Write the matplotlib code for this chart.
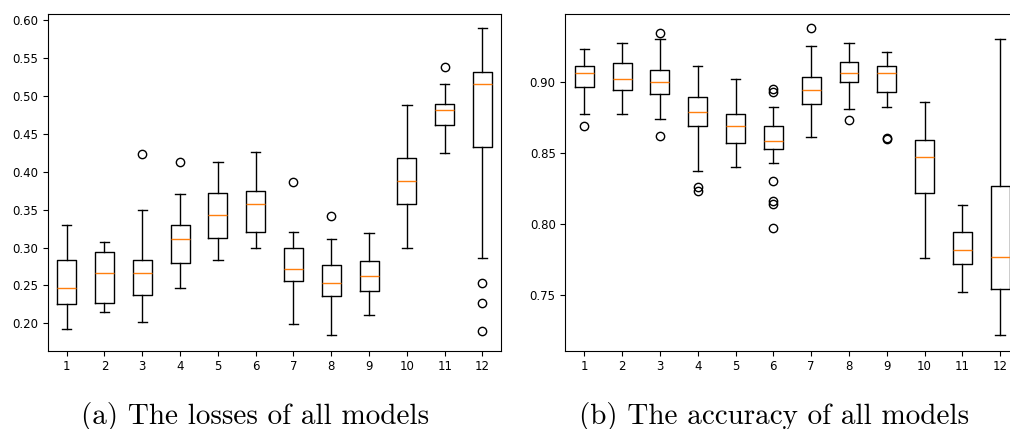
import matplotlib
matplotlib.use("Agg")
import matplotlib.pyplot as plt

models = [str(i) for i in range(1, 13)]

# Losses (left panel)
loss_whislo = [0.192, 0.215, 0.202, 0.246, 0.283, 0.300, 0.199, 0.184, 0.211, 0.300, 0.424, 0.286]
loss_q1     = [0.225, 0.227, 0.237, 0.279, 0.312, 0.320, 0.256, 0.236, 0.243, 0.357, 0.461, 0.433]
loss_med    = [0.246, 0.267, 0.267, 0.311, 0.343, 0.358, 0.271, 0.253, 0.262, 0.388, 0.481, 0.516]
loss_q3     = [0.283, 0.294, 0.284, 0.330, 0.372, 0.375, 0.299, 0.277, 0.282, 0.418, 0.489, 0.531]
loss_whishi = [0.330, 0.307, 0.349, 0.370, 0.413, 0.426, 0.320, 0.311, 0.319, 0.488, 0.516, 0.589]
loss_fliers = [[], [], [0.423], [0.413], [], [], [0.386], [0.341], [], [], [0.538],
               [0.253, 0.227, 0.190]]

# Accuracy (right panel)
acc_whislo = [0.877, 0.877, 0.874, 0.837, 0.840, 0.843, 0.861, 0.881, 0.882, 0.776, 0.752, 0.722]
acc_q1     = [0.896, 0.894, 0.891, 0.869, 0.857, 0.853, 0.884, 0.900, 0.893, 0.822, 0.772, 0.754]
acc_med    = [0.906, 0.902, 0.900, 0.879, 0.869, 0.858, 0.894, 0.906, 0.906, 0.847, 0.782, 0.777]
acc_q3     = [0.911, 0.913, 0.908, 0.889, 0.877, 0.869, 0.903, 0.914, 0.911, 0.859, 0.794, 0.827]
acc_whishi = [0.923, 0.927, 0.930, 0.911, 0.902, 0.882, 0.925, 0.927, 0.921, 0.886, 0.813, 0.930]
acc_fliers = [[0.869], [], [0.9345, 0.862], [0.826, 0.823], [],
              [0.895, 0.893, 0.830, 0.816, 0.814, 0.797], [0.938], [0.873],
              [0.8602, 0.8596], [], [], []]


def make_stats(lo, q1, med, q3, hi, fl):
    return [dict(whislo=a, q1=b, med=c, q3=d, whishi=e, fliers=f, label=m)
            for a, b, c, d, e, f, m in zip(lo, q1, med, q3, hi, fl, models)]


fig = plt.figure(figsize=(10.10, 4.29), dpi=100)
H = 429.0
W = 1010.0
bottom = (H - 350.7) / H
height = (350.7 - 13.5) / H

ax1 = fig.add_axes([47.8 / W, bottom, (501.4 - 47.8) / W, height])
ax2 = fig.add_axes([565.4 / W, bottom, (1019.1 - 565.4) / W, height])

ax1.bxp(make_stats(loss_whislo, loss_q1, loss_med, loss_q3, loss_whishi, loss_fliers))
ax2.bxp(make_stats(acc_whislo, acc_q1, acc_med, acc_q3, acc_whishi, acc_fliers))

ax1.set_ylim(0.1639, 0.6086)
ax2.set_ylim(0.7109, 0.9479)
ax1.set_yticks([0.20, 0.25, 0.30, 0.35, 0.40, 0.45, 0.50, 0.55, 0.60])
ax2.set_yticks([0.75, 0.80, 0.85, 0.90])
for ax in (ax1, ax2):
    ax.set_xlim(0.5, 12.5)
    ax.tick_params(labelsize=8.5)

fig.text(255.5 / W, 1 - 424 / H, "(a) The losses of all models", family="cmr10",
         fontsize=21, ha="center", va="baseline")
fig.text(774 / W, 1 - 424 / H, "(b) The accuracy of all models", family="cmr10",
         fontsize=21, ha="center", va="baseline")

fig.savefig("out.png", dpi=100)
